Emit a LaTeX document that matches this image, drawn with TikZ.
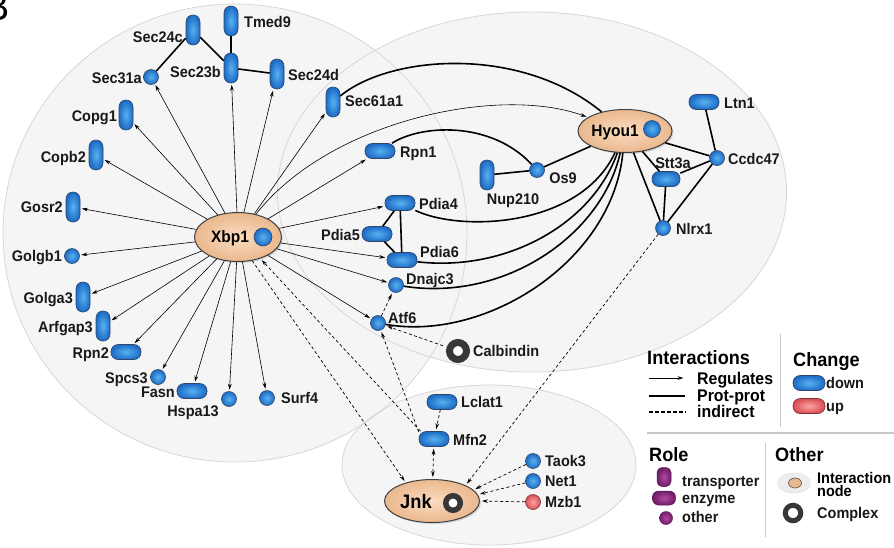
\documentclass[tikz,border=0pt]{standalone}
\usepackage{fontspec}
\setmainfont{Liberation Sans}[FakeStretch=0.94]
\usetikzlibrary{shapes.geometric,arrows.meta,shadows}

\definecolor{bgfill}{RGB}{245,245,245}
\definecolor{bgdraw}{RGB}{215,215,215}
\definecolor{blin}{RGB}{88,178,240}
\definecolor{blout}{RGB}{30,108,198}
\definecolor{bldraw}{RGB}{45,70,105}
\definecolor{rdin}{RGB}{250,165,165}
\definecolor{rdout}{RGB}{220,78,84}
\definecolor{rddraw}{RGB}{120,50,50}
\definecolor{puin}{RGB}{178,72,162}
\definecolor{puout}{RGB}{112,30,104}
\definecolor{tanin}{RGB}{251,220,193}
\definecolor{tanout}{RGB}{234,184,142}
\definecolor{ringc}{RGB}{55,55,55}
\definecolor{divc}{RGB}{200,200,200}

\begin{document}
\begin{tikzpicture}[x=1pt,y=-1pt,
 bgell/.style={ellipse, fill=bgfill, inner sep=0pt},
 bgline/.style={draw=bgdraw, line width=0.8pt},
 prot/.style={inner sep=0pt, draw=bldraw, line width=0.6pt, inner color=blin, outer color=blout},
 redp/.style={inner sep=0pt, draw=rddraw, line width=0.6pt, inner color=rdin, outer color=rdout},
 purp/.style={inner sep=0pt, draw=puout!80!black, line width=0.5pt, inner color=puin, outer color=puout},
 vpill/.style={prot, rectangle, rounded corners=6.8pt, minimum width=14pt, minimum height=30pt},
 hpill/.style={prot, rectangle, rounded corners=7pt, minimum width=30pt, minimum height=15pt},
 cnode/.style={prot, circle, minimum size=15pt},
 hub/.style={ellipse, draw=black!75, line width=1pt, inner color=tanin, outer color=tanout, inner sep=0pt,
   drop shadow={opacity=0.3, shadow xshift=1.5pt, shadow yshift=-1.5pt}},
 ring/.style={circle, draw=ringc, fill=white, inner sep=0pt},
 lbl/.style={font=\bfseries\fontsize{15.4}{17}\selectfont, inner sep=0pt, text height=11pt, text depth=0pt, text=black!90},
 biglbl/.style={font=\bfseries\fontsize{16.5}{18}\selectfont, inner sep=0pt, text height=11.8pt, text depth=0pt},
 hdr/.style={font=\bfseries\fontsize{19.3}{21}\selectfont, inner sep=0pt, text height=13.8pt, text depth=0pt, anchor=west},
 leglbl/.style={font=\bfseries\fontsize{16.9}{18}\selectfont, inner sep=0pt, text height=12.1pt, text depth=0pt, anchor=west},
 reg/.style={line width=0.6pt, -{Stealth[length=6pt,width=3.6pt]}, shorten >=1.5pt},
 pp/.style={line width=1.6pt},
 ind/.style={line width=0.7pt, dash pattern=on 3pt off 2.5pt, -{Stealth[length=6pt,width=3.6pt]}, shorten >=2pt}
]
\useasboundingbox (0,0) rectangle (894,547);
\fill[white] (0,0) rectangle (894,547);

% panel letter
\node[font=\fontsize{40}{40}\selectfont, anchor=south east, inner sep=0pt] (letterB) at (10,21) {B};

% background groups
\node[bgell, minimum width=464pt, minimum height=458pt] (bgL) at (235,233) {};
\node[bgell, minimum width=509pt, minimum height=360pt] (bgR) at (532,192) {};
\node[bgell, minimum width=294pt, minimum height=160pt] (bgB) at (489,465) {};
\draw[bgline] (bgL.center) ellipse [x radius=232pt, y radius=229pt];
\draw[bgline] (bgR.center) ellipse [x radius=254.5pt, y radius=180pt];
\draw[bgline] (bgB.center) ellipse [x radius=147pt, y radius=80pt];

% hubs
\node[hub, minimum width=87pt, minimum height=49pt] (xbp) at (238,237) {};
\node[biglbl] (xbpT) at (230,237) {Xbp1};
\node[cnode, minimum size=18pt] (xbpC) at (263,237) {};

\node[hub, minimum width=94pt, minimum height=43pt] (hyou) at (625,131) {};
\node[biglbl] (hyouT) at (615,131) {Hyou1};
\node[cnode, minimum size=17pt] (hyouC) at (652,129) {};

\node[hub, minimum width=95pt, minimum height=43pt] (jnk) at (432,501) {};
\node[font=\bfseries\fontsize{19.5}{21}\selectfont, inner sep=0pt, text height=14pt, text depth=0pt] (jnkT) at (416,501) {Jnk};
\node[ring, line width=5.5pt, minimum size=14.5pt] (jnkC) at (453,503) {};

% left group
\node[vpill] (sec24c) at (193,30) {};
\node[lbl, anchor=east] (tsec24c) at (183,37) {Sec24c};
\node[vpill] (tmed9) at (231,21) {};
\node[lbl, anchor=west] (ttmed9) at (244,22) {Tmed9};
\node[vpill] (sec23b) at (231,68) {};
\node[lbl, anchor=east] (tsec23b) at (221,72) {Sec23b};
\node[vpill] (sec24d) at (277,74) {};
\node[lbl, anchor=west] (tsec24d) at (288,75) {Sec24d};
\node[cnode] (sec31a) at (151,77) {};
\node[lbl, anchor=east] (tsec31a) at (142,78) {Sec31a};
\node[vpill] (copg1) at (126,115) {};
\node[lbl, anchor=east] (tcopg1) at (117,116) {Copg1};
\node[vpill] (copb2) at (96,155) {};
\node[lbl, anchor=east] (tcopb2) at (86,157) {Copb2};
\node[vpill] (gosr2) at (73,207) {};
\node[lbl, anchor=east] (tgosr2) at (63,207) {Gosr2};
\node[cnode] (golgb1) at (72,256) {};
\node[lbl, anchor=east] (tgolgb1) at (62,256) {Golgb1};
\node[vpill] (golga3) at (83,297) {};
\node[lbl, anchor=east] (tgolga3) at (73,298) {Golga3};
\node[vpill] (arfgap3) at (103,326) {};
\node[lbl, anchor=east] (tarfgap3) at (93,327) {Arfgap3};
\node[hpill] (rpn2) at (126,352) {};
\node[lbl, anchor=east] (trpn2) at (109,353) {Rpn2};
\node[cnode] (spcs3) at (158,377) {};
\node[lbl, anchor=east] (tspcs3) at (148,378) {Spcs3};
\node[hpill] (fasn) at (192,391) {};
\node[lbl, anchor=east] (tfasn) at (175,392) {Fasn};
\node[cnode] (hspa13) at (229,399) {};
\node[lbl] (thspa13) at (193,411) {Hspa13};
\node[cnode] (surf4) at (267,398) {};
\node[lbl, anchor=west] (tsurf4) at (281,398) {Surf4};

% middle group
\node[vpill] (sec61a1) at (333,102) {};
\node[lbl, anchor=west] (tsec61a1) at (345,101) {Sec61a1};
\node[hpill] (rpn1) at (380,151) {};
\node[lbl, anchor=west] (trpn1) at (400,152) {Rpn1};
\node[cnode] (os9) at (537,170) {};
\node[lbl] (tos9) at (563,178) {Os9};
\node[vpill] (nup210) at (487,175) {};
\node[lbl] (tnup210) at (513,199) {Nup210};
\node[hpill] (pdia4) at (400,203) {};
\node[lbl, anchor=west] (tpdia4) at (419,204) {Pdia4};
\node[hpill] (pdia5) at (377,234) {};
\node[lbl, anchor=east] (tpdia5) at (360,235) {Pdia5};
\node[hpill] (pdia6) at (402,260) {};
\node[lbl, anchor=west] (tpdia6) at (420,252) {Pdia6};
\node[cnode] (dnajc3) at (396,285) {};
\node[lbl, anchor=west] (tdnajc3) at (406,279) {Dnajc3};
\node[cnode] (atf6) at (378,323) {};
\node[lbl, anchor=west] (tatf6) at (388,318) {Atf6};
\node[ring, line width=7pt, minimum size=17pt] (calb) at (458,351) {};
\node[lbl, anchor=west] (tcalb) at (473,351) {Calbindin};

% right group
\node[hpill] (ltn1) at (704,102) {};
\node[lbl, anchor=west] (tltn1) at (724,103) {Ltn1};
\node[cnode] (ccdc47) at (717,158) {};
\node[lbl, anchor=west] (tccdc47) at (728,159) {Ccdc47};
\node[hpill, minimum width=28pt] (stt3a) at (666,179) {};
\node[lbl] (tstt3a) at (673,163) {Stt3a};
\node[cnode] (nlrx1) at (663,228) {};
\node[lbl, anchor=west] (tnlrx1) at (676,229) {Nlrx1};

% bottom group
\node[hpill] (lclat1) at (442,402) {};
\node[lbl, anchor=west] (tlclat1) at (461,402) {Lclat1};
\node[hpill] (mfn2) at (434,439) {};
\node[lbl, anchor=west] (tmfn2) at (453,440) {Mfn2};
\node[cnode] (taok3) at (533,461) {};
\node[lbl, anchor=west] (ttaok3) at (545,461) {Taok3};
\node[cnode] (net1) at (533,481) {};
\node[lbl, anchor=west] (tnet1) at (545,481) {Net1};
\node[redp, circle, minimum size=15pt] (mzb1) at (533,502) {};
\node[lbl, anchor=west] (tmzb1) at (545,502) {Mzb1};

% protein-protein interactions
\draw[pp] (sec31a) -- (sec24c);
\draw[pp] (sec24c) -- (sec23b);
\draw[pp] (tmed9) -- (sec23b);
\draw[pp] (sec23b) -- (sec24d);
\draw[pp] (sec61a1) .. controls (390,55) and (520,45) .. (hyou);
\draw[pp] (rpn1) .. controls (420,125) and (490,120) .. (os9);
\draw[pp] (nup210) -- (os9);
\draw[pp] (os9) -- (hyou);
\draw[pp] (pdia4) -- (pdia6);
\draw[pp] (pdia4) -- (pdia5);
\draw[pp] (pdia5) -- (pdia6);
\draw[pp] (pdia4) .. controls (460,232) and (580,228) .. (hyou);
\draw[pp] (pdia6) .. controls (505,272) and (592,225) .. (hyou);
\draw[pp] (dnajc3) .. controls (505,302) and (602,235) .. (hyou);
\draw[pp] (atf6) .. controls (485,342) and (612,262) .. (hyou);
\draw[pp] (hyou) -- (stt3a);
\draw[pp] (hyou) -- (ccdc47);
\draw[pp] (hyou) -- (nlrx1);
\draw[pp] (stt3a) -- (ccdc47);
\draw[pp] (stt3a) -- (nlrx1);
\draw[pp] (ccdc47) -- (nlrx1);
\draw[pp] (ltn1) -- (ccdc47);

% regulation from Xbp1
\foreach \t in {sec31a,sec23b,sec24d,sec61a1,copg1,copb2,gosr2,golgb1,golga3,arfgap3,rpn2,spcs3,fasn,hspa13,surf4,rpn1,pdia4,pdia6,dnajc3,atf6}
  \draw[reg] (xbp) -- (\t);
\draw[reg] (xbp) .. controls (330,120) and (500,85) .. (hyou);

% indirect
\draw[ind] (xbp.-59) -- (jnk.145);
\draw[ind] (mfn2.150) -- (xbp.-44);
\draw[ind] (mfn2.155) -- (atf6);
\draw[ind] (atf6) -- (dnajc3);
\draw[ind, shorten <=4pt] (calb) -- (atf6);
\draw[ind] (lclat1) -- (mfn2);
\draw[ind, {Stealth[length=6pt,width=3.6pt]}-{Stealth[length=6pt,width=3.6pt]}, shorten <=2pt] (mfn2) -- (jnk);
\draw[ind] (nlrx1) -- (jnk.25);
\draw[ind] (taok3) -- (jnk.15);
\draw[ind] (net1) -- (jnk.8);
\draw[ind] (mzb1) -- (jnk.0);

% legend
\node[hdr] (hInt) at (647,358) {Interactions};
\coordinate (lr1) at (649,378); \coordinate (lr2) at (685,378);
\draw[reg] (lr1) -- (lr2);
\node[leglbl] (tReg) at (697,378) {Regulates};
\coordinate (lp1) at (649,396); \coordinate (lp2) at (685,396);
\draw[line width=1.8pt] (lp1) -- (lp2);
\node[leglbl] (tPP) at (697,395) {Prot-prot};
\coordinate (li1) at (649,412); \coordinate (li2) at (686,412);
\draw[line width=1.1pt, dash pattern=on 3.5pt off 2.5pt] (li1) -- (li2);
\node[leglbl] (tInd) at (697,411) {indirect};

\coordinate (dv1) at (780,334); \coordinate (dv2) at (780,427);
\draw[divc, line width=0.9pt] (dv1) -- (dv2);
\coordinate (dh1) at (647,433); \coordinate (dh2) at (894,433);
\draw[divc, line width=1.2pt] (dh1) -- (dh2);
\coordinate (dw1) at (765,443); \coordinate (dw2) at (765,537);
\draw[divc, line width=0.9pt] (dw1) -- (dw2);

\node[hdr] (hChg) at (793,360) {Change};
\node[hpill, minimum width=32pt, minimum height=15pt] (lgDown) at (809,383) {};
\node[lbl, anchor=west] (tDown) at (826,383) {down};
\node[redp, rectangle, rounded corners=7pt, minimum width=32pt, minimum height=15pt] (lgUp) at (809,406) {};
\node[lbl, anchor=west] (tUp) at (826,406) {up};

\node[hdr] (hRole) at (649,455) {Role};
\node[purp, rectangle, rounded corners=5pt, minimum width=14pt, minimum height=19pt] (lgTr) at (664,477) {};
\node[lbl, anchor=west] (tTr) at (682,481) {transporter};
\node[purp, rectangle, rounded corners=6pt, minimum width=23pt, minimum height=14pt] (lgEn) at (664,498) {};
\node[lbl, anchor=west] (tEn) at (682,498) {enzyme};
\node[purp, circle, minimum size=13pt] (lgOt) at (666,518) {};
\node[lbl, anchor=west] (tOt) at (682,517) {other};

\node[hdr] (hOth) at (775,455) {Other};
\node[ellipse, fill=black!7, draw=black!12, line width=0.5pt, minimum width=33pt, minimum height=20pt, inner sep=0pt] (lgIn) at (794,483) {};
\node[ellipse, fill=tanout, draw=black!70, line width=0.6pt, minimum width=13pt, minimum height=10pt, inner sep=0pt] (lgIn2) at (795,483) {};
\node[font=\bfseries\fontsize{15.4}{13}\selectfont, inner sep=0pt, anchor=west, align=left] (tIn) at (817,484) {Interaction\\node};
\node[ring, line width=5pt, minimum size=15.5pt] (lgCx) at (793,513) {};
\node[lbl, anchor=west] (tCx) at (817,513) {Complex};
\end{tikzpicture}
\end{document}
